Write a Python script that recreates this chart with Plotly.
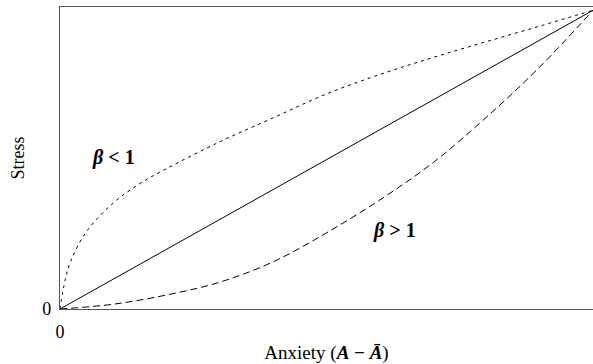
import plotly.graph_objects as go

# values (x and stress both on 0..1)
x_linear = [0.0, 1.0]
y_linear = [0.0, 1.0]

x_beta_lt1 = [0.0, 0.01, 0.02, 0.05, 0.1, 0.15, 0.2, 0.3, 0.4, 0.5, 0.6, 0.7, 0.8, 0.9, 1.0]
y_beta_lt1 = [0.0, 0.10, 0.16, 0.26, 0.355, 0.42, 0.47, 0.56, 0.64, 0.72, 0.785, 0.842, 0.895, 0.947, 1.0]

x_beta_gt1 = [0.0, 0.1, 0.2, 0.3, 0.4, 0.5, 0.6, 0.7, 0.8, 0.9, 1.0]
y_beta_gt1 = [0.0, 0.016, 0.047, 0.09, 0.158, 0.255, 0.365, 0.49, 0.642, 0.81, 1.0]

x_ticks = [0]
x_tick_text = ["0"]
y_ticks = [0]
y_tick_text = ["0"]

FONT = "Liberation Serif"

fig = go.Figure()
fig.add_trace(go.Scatter(x=x_linear, y=y_linear, mode="lines",
                         line=dict(color="black", width=1), name="beta = 1"))
fig.add_trace(go.Scatter(x=x_beta_lt1, y=y_beta_lt1, mode="lines",
                         line=dict(color="black", width=1, dash="3px,4px", shape="spline"),
                         name="beta < 1"))
fig.add_trace(go.Scatter(x=x_beta_gt1, y=y_beta_gt1, mode="lines",
                         line=dict(color="black", width=1, dash="7px,4px", shape="spline"),
                         name="beta > 1"))

fig.add_annotation(x=0.101, y=0.508, text="<b><i>β</i> &lt; 1</b>", showarrow=False,
                   font=dict(family=FONT, size=20, color="black"))
fig.add_annotation(x=0.627, y=0.264, text="<b><i>β</i> &gt; 1</b>", showarrow=False,
                   font=dict(family=FONT, size=20, color="black"))

fig.update_layout(
    width=593, height=364,
    margin=dict(l=60, r=0, t=7, b=55),
    plot_bgcolor="white", paper_bgcolor="white",
    showlegend=False,
    font=dict(family=FONT, size=18, color="black"),
    xaxis=dict(range=[0, 1.0], tickvals=x_ticks, ticktext=x_tick_text,
               showgrid=False, zeroline=False, showline=True, mirror=True,
               linecolor="#555", linewidth=1.3, ticks="", ticklabelstandoff=6,
               title=dict(text="Anxiety (<b><i>A</i> − <i>Ā</i></b>)", standoff=8,
                          font=dict(family=FONT, size=19))),
    yaxis=dict(range=[0, 1.011], tickvals=y_ticks, ticktext=y_tick_text,
               showgrid=False, zeroline=False, showline=True, mirror=True,
               linecolor="#555", linewidth=1.3, ticks="", ticklabelstandoff=4,
               title=dict(text="Stress", standoff=12, font=dict(family=FONT, size=18))),
)

# the page body has a default 8px margin; drop it so the figure fills the window
fig.write_html("out.html", config={"responsive": False, "displayModeBar": False},
               post_script="document.body.style.margin='0';document.body.style.overflow='hidden';")
